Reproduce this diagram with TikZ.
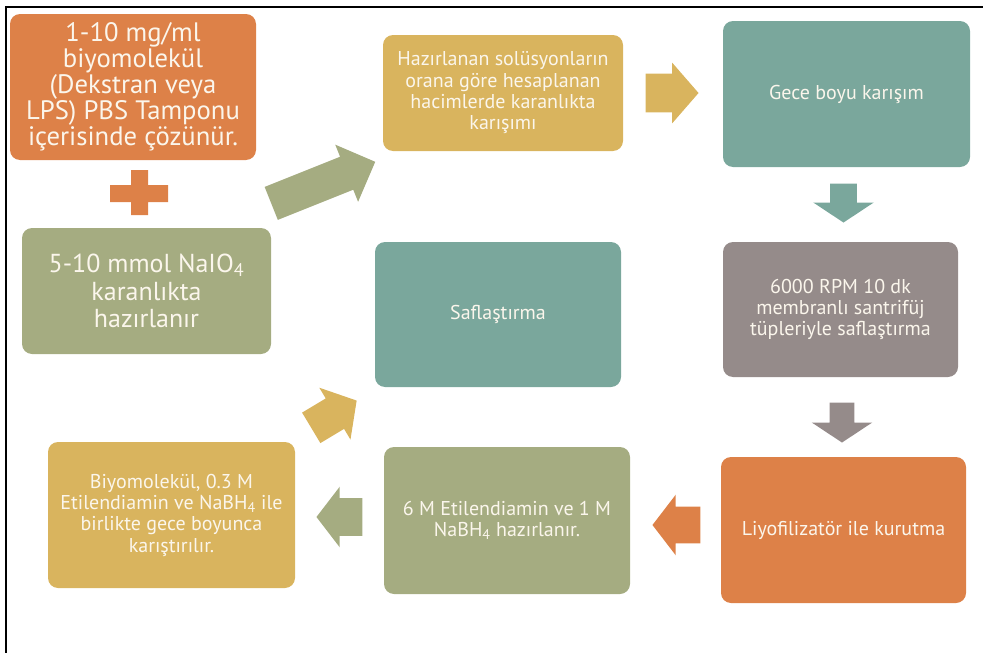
\documentclass[tikz,border=0pt]{standalone}
\usepackage{fontspec}
\setmainfont{PT Sans}
\usetikzlibrary{shapes.arrows,calc}

\definecolor{kturuncu}{RGB}{221,129,72}
\definecolor{kyesil}{RGB}{165,172,129}
\definecolor{ksari}{RGB}{217,180,94}
\definecolor{kcamgobegi}{RGB}{122,167,156}
\definecolor{kgri}{RGB}{149,139,138}
\definecolor{kyazi}{RGB}{251,246,236}

\begin{document}
\begin{tikzpicture}[x=0.75pt,y=-0.75pt]

\tikzset{kutu/.style={rounded corners=7.5pt, text=kyazi, align=center, inner sep=0pt,
    font=\fontsize{15}{16}\selectfont},
  buyuk/.style={font=\fontsize{20}{19.5}\selectfont},
  boyut/.style 2 args={minimum width=#1*0.75pt, minimum height=#2*0.75pt},
  ok/.style={single arrow, inner xsep=0pt, draw=none, anchor=tail},
  okboyut/.style n args={5}{minimum height=#1*0.75pt, minimum width=#2*0.75pt,
    inner ysep=#3*0.375pt, single arrow head extend=#4*0.75pt, single arrow tip angle=#5}}

\useasboundingbox (0,0) rectangle (983,653);
\draw[line width=1.8pt] (6,653) -- (6,7) -- (983,7);

\node[kutu, buyuk, boyut={246}{146}, fill=kturuncu] (biyomolekul) at (133,87)
  {1-10 mg/ml\\biyomolekül\\(Dekstran veya\\LPS) PBS Tamponu\\içerisinde çözünür.};
\fill[kturuncu] (110,185) rectangle (168,202) (131,170) rectangle (148,215);
\node[kutu, font=\fontsize{19.5}{20.5}\selectfont, boyut={249}{126}, fill=kyesil] (naio) at (146.5,291)
  {5-10 mmol NaIO\textsubscript{4}\\karanlıkta\\hazırlanır};
\node[kutu, boyut={240}{116}, fill=ksari] (hazirlama) at (503,93)
  {Hazırlanan solüsyonların\\orana göre hesaplanan\\hacimlerde karanlıkta\\karışımı};
\node[kutu, boyut={247}{146}, fill=kcamgobegi] (gece) at (846.5,94) {Gece boyu karışım};
\node[kutu, boyut={235}{135}, fill=kgri] (santrifuj) at (840.5,309.5)
  {6000 RPM 10 dk\\membranlı santrifüj\\tüpleriyle saflaştırma};
\node[kutu, boyut={245}{146}, fill=kturuncu] (kurutma) at (843.5,530) {Liyofilizatör ile kurutma};
\node[kutu, boyut={246}{147}, fill=kyesil] (etilen) at (507,520.5)
  {6 M Etilendiamin ve 1 M\\NaBH\textsubscript{4} hazırlanır.};
\node[kutu, boyut={247}{146}, fill=ksari] (karistirma) at (171.5,515)
  {Biyomolekül, 0.3 M\\Etilendiamin ve NaBH\textsubscript{4} ile\\birlikte gece boyunca\\karıştırılır.};
\node[kutu, boyut={246}{145}, fill=kcamgobegi] (saflastirma) at (498,314.5) {Saflaştırma};

\node[ok, fill=kyesil, okboyut={112}{61}{35}{13}{90}, rotate=21.8] (ok1) at (271,203.5) {};
\node[ok, fill=ksari, okboyut={53}{60}{38}{11}{98}] (ok2) at ($(hazirlama.east)+(22,0)$) {};
\node[ok, fill=kcamgobegi, okboyut={39}{60}{26}{17}{113}, rotate=-90] (ok3) at ($(gece.south)+(-3,16)$) {};
\node[ok, fill=kgri, okboyut={40}{60}{24}{18}{113}, rotate=-90] (ok4) at ($(santrifuj.south)+(1.5,25)$) {};
\node[ok, fill=kturuncu, okboyut={48}{60}{36}{12}{105}, rotate=180] (ok5) at ($(kurutma.west)+(-20,-5)$) {};
\node[ok, fill=kyesil, okboyut={46}{60}{37}{11.5}{105}, rotate=180] (ok6) at ($(etilen.west)+(-21,-3.5)$) {};
\node[ok, fill=ksari, okboyut={53}{60}{35}{12.5}{100}, rotate=31] (ok7) at (311,428) {};

\end{tikzpicture}
\end{document}
